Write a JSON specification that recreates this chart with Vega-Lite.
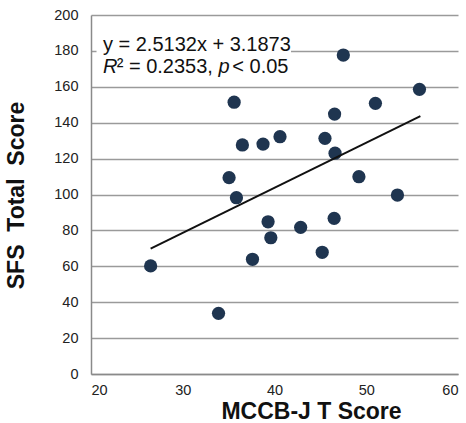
{
  "$schema": "https://vega.github.io/schema/vega-lite/v6.json",
  "width": 367,
  "height": 359,
  "autosize": {"type": "none"},
  "padding": {"left": 91, "top": 15, "right": 8, "bottom": 49},
  "background": "white",
  "config": {
    "view": {"stroke": null},
    "font": "Liberation Sans"
  },
  "datasets": {
    "pts": [
      {"x": 26.5, "y": 60.2},
      {"x": 33.9, "y": 33.8},
      {"x": 35.05, "y": 109.4},
      {"x": 35.6, "y": 151.4},
      {"x": 35.85, "y": 98.2},
      {"x": 36.5, "y": 127.6},
      {"x": 37.6, "y": 63.9},
      {"x": 38.75, "y": 128.1},
      {"x": 39.3, "y": 84.8},
      {"x": 39.6, "y": 75.9},
      {"x": 40.6, "y": 132.2},
      {"x": 42.85, "y": 81.7},
      {"x": 45.2, "y": 67.8},
      {"x": 45.5, "y": 131.3},
      {"x": 46.5, "y": 86.7},
      {"x": 46.55, "y": 144.8},
      {"x": 46.6, "y": 123.0},
      {"x": 47.5, "y": 177.7},
      {"x": 49.2, "y": 109.9},
      {"x": 51.0, "y": 150.8},
      {"x": 53.4, "y": 99.7},
      {"x": 55.8, "y": 158.6}
    ],
    "fit": [
      {"x": 26.5, "y": 69.8},
      {"x": 55.9, "y": 143.7}
    ]
  },
  "encoding": {
    "x": {
      "field": "x", "type": "quantitative",
      "scale": {"domain": [20, 60], "nice": false, "zero": false},
      "axis": {
        "values": [20, 30, 40, 50, 60], "tickCount": 20,
        "grid": false, "ticks": false, "labelOverlap": false,
        "domainColor": "#8a8a8a", "domainWidth": 1.5,
        "labelFontSize": 14.5, "labelColor": "#222222", "labelPadding": 9,
        "labelFont": "Liberation Sans",
        "title": "MCCB-J T Score",
        "titleFont": "Liberation Sans", "titleFontSize": 23, "titleFontWeight": "bold",
        "titleColor": "#111111", "titleX": 220, "titleY": 26, "titleBaseline": "top"
      }
    },
    "y": {
      "field": "y", "type": "quantitative",
      "scale": {"domain": [0, 200], "nice": false},
      "axis": {
        "values": [0, 20, 40, 60, 80, 100, 120, 140, 160, 180, 200], "tickCount": 30,
        "grid": true, "gridColor": "#9a9a9a", "gridWidth": 1.5,
        "ticks": false, "labelOverlap": false,
        "domainColor": "#8a8a8a", "domainWidth": 1.5,
        "labelFontSize": 14.5, "labelColor": "#222222", "labelPadding": 13,
        "labelFont": "Liberation Sans",
        "title": "SFS\u00a0\u00a0Total\u00a0\u00a0Score",
        "titleFont": "Liberation Sans", "titleFontSize": 23, "titleFontWeight": "bold",
        "titleColor": "#111111", "titleX": -63, "titleY": 180, "titleBaseline": "bottom"
      }
    }
  },
  "layer": [
    {
      "data": {"name": "pts"},
      "mark": {"type": "point", "filled": true, "opacity": 1, "size": 175, "color": "#1f3550"}
    },
    {
      "data": {"values": [{"x": 20.6, "x2": 41.8, "y": 168, "y2": 192}]},
      "mark": {"type": "rect", "color": "white"},
      "encoding": {
        "x2": {"field": "x2"},
        "y2": {"field": "y2"}
      }
    },
    {
      "data": {"name": "fit"},
      "mark": {"type": "line", "color": "#111111", "strokeWidth": 2}
    },
    {
      "data": {"values": [
        {"t": "y = 2.5132x + 3.1873", "x": 21.3, "y": 183.3},
        {"t": "² = 0.2353,", "x": 22.8, "y": 171},
        {"t": "< 0.05", "x": 35.4, "y": 171}
      ]},
      "mark": {"type": "text", "align": "left", "baseline": "middle", "font": "Liberation Sans", "fontSize": 20, "color": "#111111"},
      "encoding": {
        "text": {"field": "t"}
      }
    },
    {
      "data": {"values": [
        {"t": "R", "x": 21.3, "y": 171},
        {"t": "p", "x": 33.9, "y": 171}
      ]},
      "mark": {"type": "text", "align": "left", "baseline": "middle", "font": "Liberation Sans", "fontSize": 20, "fontStyle": "italic", "color": "#111111"},
      "encoding": {
        "text": {"field": "t"}
      }
    }
  ]
}
